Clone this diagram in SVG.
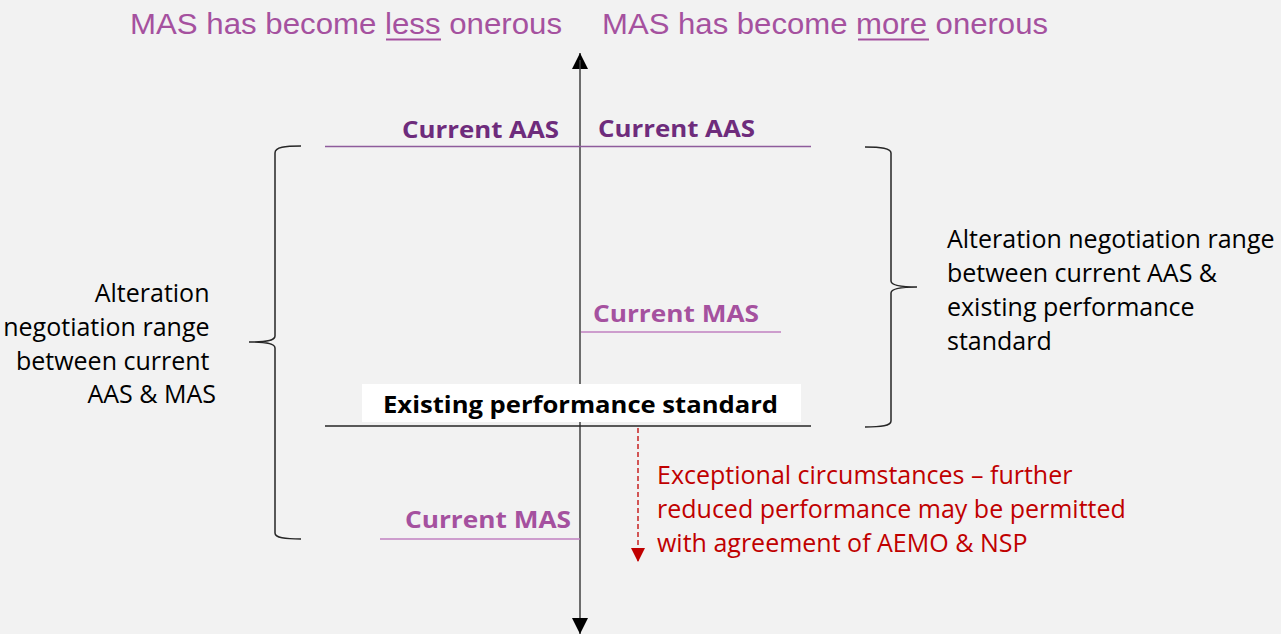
<svg xmlns="http://www.w3.org/2000/svg" width="1281" height="634" viewBox="0 0 1281 634">
<style>
.title{font-family:"Liberation Sans",Arial,sans-serif;font-size:29px;fill:#A5519F}
.cal{font-family:"Open Sans","Noto Sans",sans-serif;font-size:25px}
.bold{font-weight:bold;font-size:24px}
.aas{fill:#6E2C7C}
.mas{fill:#A5519F}
.blk{fill:#000}
.red{fill:#C00000}
.brace{fill:none;stroke:#262626;stroke-width:1.5}
</style>
<defs>
<marker id="ah" viewBox="0 0 16 16" refX="16" refY="8" markerWidth="16" markerHeight="16" markerUnits="userSpaceOnUse" orient="auto">
<path d="M0,0 L16,8 L0,16 Z" fill="#000"/>
</marker>
<marker id="rh" viewBox="0 0 14 14" refX="14" refY="7" markerWidth="14" markerHeight="14" markerUnits="userSpaceOnUse" orient="auto">
<path d="M0,0 L14,7 L0,14 Z" fill="#C00000"/>
</marker>
</defs>
<rect width="1281" height="634" fill="#F2F2F2"/>

<g id="titles">
<text class="title" x="130" y="34" textLength="432" lengthAdjust="spacingAndGlyphs">MAS has become less onerous</text>
<line x1="386" y1="39.5" x2="441" y2="39.5" stroke="#A5519F" stroke-width="2"/>
<text class="title" x="602" y="34" textLength="446" lengthAdjust="spacingAndGlyphs">MAS has become more onerous</text>
<line x1="858" y1="39.5" x2="929" y2="39.5" stroke="#A5519F" stroke-width="2"/>
</g>

<g id="connectors">
<line x1="580" y1="69" x2="580" y2="53" stroke="#404040" stroke-width="1.5" marker-end="url(#ah)"/>
<line x1="580" y1="60" x2="580" y2="634" stroke="#404040" stroke-width="1.5" marker-end="url(#ah)"/>
<line x1="638" y1="428" x2="638" y2="562" stroke="#C00000" stroke-width="1.3" stroke-dasharray="5,3" marker-end="url(#rh)"/>
</g>

<g id="current-aas">
<line x1="325" y1="146.5" x2="811" y2="146.5" stroke="#8E5C9C" stroke-width="1.5"/>
<text class="cal bold aas" x="402" y="138" textLength="157" lengthAdjust="spacingAndGlyphs">Current AAS</text>
<text class="cal bold aas" x="598" y="137" textLength="157" lengthAdjust="spacingAndGlyphs">Current AAS</text>
</g>

<g id="current-mas-right">
<line x1="581" y1="332" x2="781" y2="332" stroke="#C080C0" stroke-width="1.5"/>
<text class="cal bold mas" x="593" y="322" textLength="166" lengthAdjust="spacingAndGlyphs">Current MAS</text>
</g>

<g id="existing-standard">
<line x1="325" y1="426" x2="811" y2="426" stroke="#262626" stroke-width="1.5"/>
<rect x="362" y="384" width="439" height="38" fill="#FFFFFF"/>
<text class="cal bold blk" x="383" y="413" textLength="395" lengthAdjust="spacingAndGlyphs">Existing performance standard</text>
</g>

<g id="current-mas-left">
<line x1="380" y1="539" x2="580" y2="539" stroke="#C080C0" stroke-width="1.5"/>
<text class="cal bold mas" x="405" y="528" textLength="166" lengthAdjust="spacingAndGlyphs">Current MAS</text>
</g>

<g id="left-range">
<path class="brace" d="M301,146 C285,146 275,147 275,153 L275,336 C275,341 265,342 249,342 C265,342 275,343 275,348 L275,533 C275,538 285,539 301,539"/>
<text class="cal blk" text-anchor="end">
<tspan x="216" y="302">Alteration</tspan>
<tspan x="216" y="336">negotiation range</tspan>
<tspan x="216" y="370">between current</tspan>
<tspan x="216" y="403">AAS &amp; MAS</tspan>
</text>
</g>

<g id="right-range">
<path class="brace" d="M865,147 C881,147 891,148 891,153 L891,281 C891,285 901,287 917,287 C901,287 891,289 891,293 L891,421 C891,426 881,427 865,427"/>
<text class="cal blk">
<tspan x="947" y="248">Alteration negotiation range</tspan>
<tspan x="947" y="282">between current AAS &amp;</tspan>
<tspan x="947" y="316">existing performance</tspan>
<tspan x="947" y="350">standard</tspan>
</text>
</g>

<g id="exceptional">
<text class="cal red">
<tspan x="657" y="484">Exceptional circumstances – further</tspan>
<tspan x="657" y="518">reduced performance may be permitted</tspan>
<tspan x="657" y="552">with agreement of AEMO &amp; NSP</tspan>
</text>
</g>
</svg>
